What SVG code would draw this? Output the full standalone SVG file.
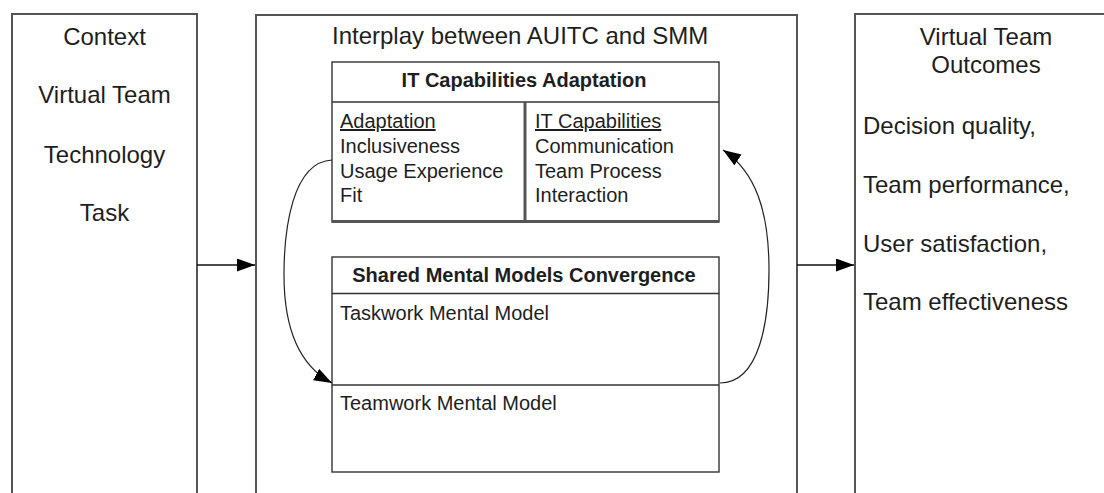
<svg xmlns="http://www.w3.org/2000/svg" width="1104" height="493" viewBox="0 0 1104 493">
  <style>
    text { font-family: "Liberation Sans", Arial, sans-serif; fill: #1e1e1e; }
    .big { font-size: 24px; }
    .mid { font-size: 20px; }
    .hdr { font-size: 20px; font-weight: bold; }
    .ctr { text-anchor: middle; }
    .u { text-decoration: underline; }
    .frame { fill: #fff; stroke: #555; stroke-width: 2; }
    .box { fill: #fff; stroke: #333; stroke-width: 1.4; }
    .sep { fill: none; stroke: #333; stroke-width: 1.4; }
    .shade { fill: none; stroke: #555; stroke-width: 3; }
    .conn { fill: none; stroke: #111; stroke-width: 1.4; }
    .curve { fill: none; stroke: #222; stroke-width: 1.2; }
  </style>
  <defs>
    <marker id="arrow" markerUnits="userSpaceOnUse" markerWidth="19" markerHeight="14" refX="18" refY="6.5" orient="auto">
      <path d="M0,0 L18,6.5 L0,13 Z" fill="#000"/>
    </marker>
  </defs>

  <rect width="1104" height="493" fill="#fff"/>

  <!-- Context column -->
  <g id="context">
    <rect class="frame" x="12" y="14" width="185" height="500"/>
    <text class="big ctr" x="104.5" y="45">Context</text>
    <text class="big ctr" x="104.5" y="103">Virtual Team</text>
    <text class="big ctr" x="104.5" y="163">Technology</text>
    <text class="big ctr" x="104.5" y="221">Task</text>
  </g>

  <!-- Interplay column -->
  <g id="interplay">
    <rect class="frame" x="256" y="15" width="541" height="500"/>
    <text class="big" x="332" y="44">Interplay between AUITC and SMM</text>
  </g>

  <!-- IT capabilities adaptation -->
  <g id="it-adaptation">
    <rect class="box" x="332" y="62" width="387" height="160"/>
    <line class="sep" x1="332" y1="102" x2="719" y2="102"/>
    <line class="shade" x1="525" y1="102" x2="525" y2="222"/>
    <line class="shade" x1="332" y1="221.5" x2="719" y2="221.5"/>
    <text class="hdr ctr" x="524" y="87">IT Capabilities Adaptation</text>
    <text class="mid u" x="340" y="128">Adaptation</text>
    <text class="mid" x="340" y="153">Inclusiveness</text>
    <text class="mid" x="340" y="178">Usage Experience</text>
    <text class="mid" x="340" y="202">Fit</text>
    <text class="mid u" x="535" y="128">IT Capabilities</text>
    <text class="mid" x="535" y="153">Communication</text>
    <text class="mid" x="535" y="178">Team Process</text>
    <text class="mid" x="535" y="202">Interaction</text>
  </g>

  <!-- Shared mental models convergence -->
  <g id="smm">
    <rect class="box" x="332" y="257" width="387" height="215"/>
    <line class="sep" x1="332" y1="293.5" x2="719" y2="293.5" stroke-width="2"/>
    <line class="sep" x1="332" y1="385" x2="719" y2="385"/>
    <text class="hdr ctr" x="524" y="282">Shared Mental Models Convergence</text>
    <text class="mid" x="340" y="320">Taskwork Mental Model</text>
    <text class="mid" x="340" y="410">Teamwork Mental Model</text>
  </g>

  <!-- Outcomes column -->
  <g id="outcomes">
    <rect class="frame" x="855" y="14" width="300" height="500"/>
    <text class="big ctr" x="986" y="45">Virtual Team</text>
    <text class="big ctr" x="986" y="73">Outcomes</text>
    <text class="big" x="863" y="134">Decision quality,</text>
    <text class="big" x="863" y="193">Team performance,</text>
    <text class="big" x="863" y="252">User satisfaction,</text>
    <text class="big" x="863" y="310">Team effectiveness</text>
  </g>

  <!-- Connectors -->
  <g id="connectors">
    <line class="conn" x1="197" y1="265" x2="255" y2="265" marker-end="url(#arrow)"/>
    <line class="conn" x1="797" y1="265" x2="854" y2="265" marker-end="url(#arrow)"/>
    <path class="curve" d="M332,160 C292,162 284,230 284,275 C284,330 300,366 332,383" marker-end="url(#arrow)"/>
    <path class="curve" d="M720,383 C760,383 769,320 769,270 C769,212 756,172 723,150" marker-end="url(#arrow)"/>
  </g>
</svg>
